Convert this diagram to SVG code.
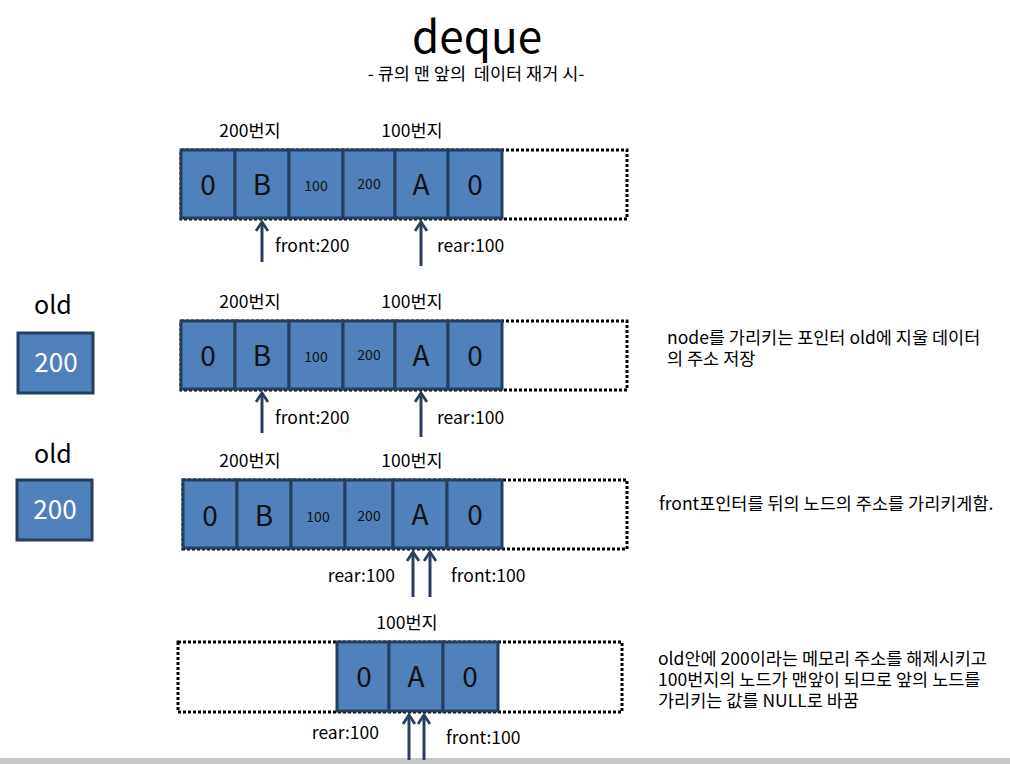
<svg xmlns="http://www.w3.org/2000/svg" width="1010" height="764" viewBox="0 0 1010 764">
<defs>
<marker id="ah" viewBox="0 0 14 14" refX="12" refY="7" markerWidth="14" markerHeight="14" markerUnits="userSpaceOnUse" orient="auto">
<polyline points="3,1 12,7 3,13" fill="none" stroke="#2a3f5c" stroke-width="2.8"/>
</marker>
</defs>
<style>
text{font-family:"Noto Sans CJK KR","Noto Sans",sans-serif;fill:#000}
.cell{fill:#4f81bd;stroke:#263e5e;stroke-width:3}
.dot{fill:none;stroke:#000;stroke-width:3;stroke-dasharray:3 2}
.big{font-size:28px;fill:#111;text-anchor:middle}
.sm{font-size:14px;fill:#111;text-anchor:middle}
.lbl{font-size:17.5px;text-anchor:middle}
.ptr{font-size:17.5px}
.note{font-size:17.5px}
.old{font-size:25px;text-anchor:middle}
.w{font-size:26px;fill:#fff;text-anchor:middle}
.arr{stroke:#2a3f5c;stroke-width:3;fill:none;marker-end:url(#ah)}
</style>
<rect width="1010" height="764" fill="#fff"/>
<rect x="0" y="758" width="1010" height="6" fill="#c8c8c8"/>
<g id="title">
<text x="477" y="53" font-size="44" text-anchor="middle">deque</text>
<text x="476" y="80" font-size="17.5" text-anchor="middle" xml:space="preserve" style="white-space:pre">- 큐의 맨 앞의  데이터 재거 시-</text>
</g>
<g id="row1">
<rect class="dot" x="181" y="150" width="446" height="69"/>
<rect class="cell" x="181" y="150" width="54" height="68"/>
<rect class="cell" x="235" y="150" width="54" height="68"/>
<rect class="cell" x="289" y="150" width="54" height="68"/>
<rect class="cell" x="343" y="150" width="52" height="68"/>
<rect class="cell" x="395" y="150" width="53" height="68"/>
<rect class="cell" x="448" y="150" width="54" height="68"/>
<text class="big" x="208" y="195">0</text>
<text class="big" x="262" y="195">B</text>
<text class="sm" x="316" y="191">100</text>
<text class="sm" x="369" y="189">200</text>
<text class="big" x="421" y="195">A</text>
<text class="big" x="475" y="195">0</text>
<text class="lbl" x="250" y="137">200번지</text>
<text class="lbl" x="412" y="137">100번지</text>
<text class="ptr" x="275" y="252">front:200</text>
<text class="ptr" x="437" y="252">rear:100</text>
</g>
<g id="old1">
<text class="old" x="53" y="314">old</text>
<rect class="cell" x="18" y="333" width="75" height="60"/>
<text class="w" x="56" y="372">200</text>
</g>
<g id="row2">
<rect class="dot" x="181" y="321" width="446" height="69"/>
<rect class="cell" x="181" y="321" width="54" height="68"/>
<rect class="cell" x="235" y="321" width="54" height="68"/>
<rect class="cell" x="289" y="321" width="54" height="68"/>
<rect class="cell" x="343" y="321" width="52" height="68"/>
<rect class="cell" x="395" y="321" width="53" height="68"/>
<rect class="cell" x="448" y="321" width="54" height="68"/>
<text class="big" x="208" y="366">0</text>
<text class="big" x="262" y="366">B</text>
<text class="sm" x="316" y="362">100</text>
<text class="sm" x="369" y="360">200</text>
<text class="big" x="421" y="366">A</text>
<text class="big" x="475" y="366">0</text>
<text class="lbl" x="250" y="308">200번지</text>
<text class="lbl" x="412" y="308">100번지</text>
<text class="ptr" x="275" y="424">front:200</text>
<text class="ptr" x="437" y="424">rear:100</text>
<text class="note" x="667" y="344">node를 가리키는 포인터 old에 지울 데이터<tspan x="667" dy="20.5">의 주소 저장</tspan></text>
</g>
<g id="old2">
<text class="old" x="53" y="463">old</text>
<rect class="cell" x="17" y="480" width="75" height="60"/>
<text class="w" x="55" y="519">200</text>
</g>
<g id="row3">
<rect class="dot" x="183" y="480" width="444" height="69"/>
<rect class="cell" x="183" y="480" width="54" height="68"/>
<rect class="cell" x="237" y="480" width="54" height="68"/>
<rect class="cell" x="291" y="480" width="54" height="68"/>
<rect class="cell" x="345" y="480" width="48" height="68"/>
<rect class="cell" x="393" y="480" width="54" height="68"/>
<rect class="cell" x="447" y="480" width="55" height="68"/>
<text class="big" x="210" y="526">0</text>
<text class="big" x="264" y="526">B</text>
<text class="sm" x="318" y="522">100</text>
<text class="sm" x="369" y="521">200</text>
<text class="big" x="420" y="525">A</text>
<text class="big" x="475" y="525">0</text>
<text class="lbl" x="250" y="467">200번지</text>
<text class="lbl" x="412" y="467">100번지</text>
<text class="ptr" x="395" y="582" text-anchor="end">rear:100</text>
<text class="ptr" x="451" y="582">front:100</text>
<text class="note" x="659" y="510">front포인터를 뒤의 노드의 주소를 가리키게함.</text>
</g>
<g id="row4">
<rect class="dot" x="178" y="642" width="444" height="70"/>
<rect class="cell" x="337" y="642" width="52" height="69"/>
<rect class="cell" x="389" y="642" width="54" height="69"/>
<rect class="cell" x="443" y="642" width="55" height="69"/>
<text class="big" x="364" y="687">0</text>
<text class="big" x="416" y="687">A</text>
<text class="big" x="470" y="687">0</text>
<text class="lbl" x="407" y="629">100번지</text>
<text class="ptr" x="379" y="739" text-anchor="end">rear:100</text>
<text class="ptr" x="446" y="744">front:100</text>
<text class="note" x="658" y="665">old안에 200이라는 메모리 주소를 해제시키고<tspan x="658" dy="21">100번지의 노드가 맨앞이 되므로 앞의 노드를</tspan><tspan x="658" dy="21">가리키는 값를 NULL로 바꿈</tspan></text>
</g>
<g id="connectors">
<line class="arr" x1="262" y1="262" x2="262" y2="222"/>
<line class="arr" x1="421" y1="266" x2="421" y2="222"/>
<line class="arr" x1="262" y1="433" x2="262" y2="393"/>
<line class="arr" x1="421" y1="437" x2="421" y2="393"/>
<line class="arr" x1="413" y1="597" x2="413" y2="552"/>
<line class="arr" x1="430" y1="597" x2="430" y2="552"/>
<line class="arr" x1="409" y1="760" x2="409" y2="715"/>
<line class="arr" x1="424" y1="760" x2="424" y2="715"/>
</g>
</svg>
